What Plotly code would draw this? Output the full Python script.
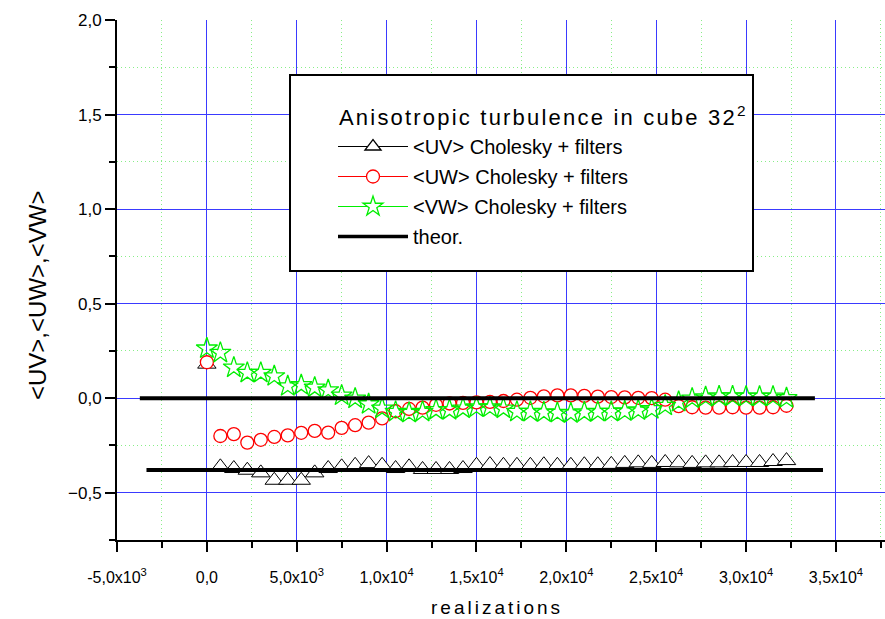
import plotly.graph_objects as go

# ---- data ----
realizations = [0, 750, 1500, 2250, 3000, 3750, 4500, 5250, 6000, 6750, 7500, 8250,
                9000, 9750, 10500, 11250, 12000, 12750, 13500, 14250, 15000, 15750,
                16500, 17250, 18000, 18750, 19500, 20250, 21000, 21750, 22500, 23250,
                24000, 24750, 25500, 26250, 27000, 27750, 28500, 29250, 30000, 30750,
                31500, 32250]

uv = [0.18, -0.363, -0.372, -0.381, -0.395, -0.434, -0.434, -0.434, -0.395, -0.372,
      -0.363, -0.355, -0.346, -0.355, -0.372, -0.363, -0.377, -0.377, -0.377, -0.372,
      -0.355, -0.351, -0.355, -0.355, -0.355, -0.352, -0.355, -0.355, -0.352, -0.352,
      -0.35, -0.345, -0.342, -0.345, -0.34, -0.342, -0.345, -0.342, -0.342, -0.34,
      -0.34, -0.34, -0.335, -0.33]

uw = [0.19, -0.20, -0.19, -0.235, -0.22, -0.205, -0.197, -0.183, -0.173, -0.182,
      -0.157, -0.143, -0.129, -0.107, -0.069, -0.057, -0.05, -0.035, -0.028, -0.025,
      -0.022, -0.02, -0.015, -0.008, 0.002, 0.01, 0.015, 0.015, 0.012, 0.008,
      0.006, 0.004, 0.002, 0.0, -0.008, -0.042, -0.048, -0.05, -0.05, -0.048,
      -0.05, -0.05, -0.048, -0.04]

vw = [0.263, 0.24, 0.162, 0.134, 0.134, 0.116, 0.063, 0.069, 0.056, 0.042,
      0.014, -0.002, -0.032, -0.055, -0.072, -0.078, -0.072, -0.063, -0.063, -0.055,
      -0.049, -0.049, -0.055, -0.072, -0.072, -0.075, -0.078, -0.08, -0.075, -0.072,
      -0.072, -0.07, -0.065, -0.058, -0.04, -0.02, -0.002, 0.005, 0.01, 0.01,
      0.008, 0.008, 0.008, 0.0]

theor_x = [-3730, 33830, None, -3360, 34280]
theor_y = [0.0, 0.0, None, -0.38, -0.38]

x_tickvals = [-5000, 0, 5000, 10000, 15000, 20000, 25000, 30000, 35000]
x_ticktext = ["-5,0x10<sup>3</sup>", "0,0", "5,0x10<sup>3</sup>", "1,0x10<sup>4</sup>",
              "1,5x10<sup>4</sup>", "2,0x10<sup>4</sup>", "2,5x10<sup>4</sup>",
              "3,0x10<sup>4</sup>", "3,5x10<sup>4</sup>"]
x_minorvals = [-2500, 2500, 7500, 12500, 17500, 22500, 27500, 32500, 37500]

names = ["&lt;UV&gt; Cholesky + filters", "&lt;UW&gt; Cholesky + filters",
         "&lt;VW&gt; Cholesky + filters", "theor."]
legend_title = "Anisotropic turbulence in cube 32<sup>2</sup>"
x_title = "realizations"
y_title = "&lt;UV&gt;,&lt;UW&gt;,&lt;VW&gt;"

FONT = "Liberation Sans, Arial, sans-serif"
GREEN = "#00ee00"
BLUE = "#3a3aff"
MINOR = "#88ee88"

fig = go.Figure()

# data markers
fig.add_trace(go.Scatter(x=realizations, y=uv, mode="markers", showlegend=False,
                         marker=dict(symbol="triangle-up", size=16, color="white",
                                     line=dict(color="black", width=1))))
fig.add_trace(go.Scatter(x=realizations, y=uw, mode="markers", showlegend=False,
                         marker=dict(symbol="circle", size=13, color="white",
                                     line=dict(color="red", width=1.3))))
fig.add_trace(go.Scatter(x=realizations, y=vw, mode="markers", showlegend=False,
                         marker=dict(symbol="star-open", size=16, color=GREEN,
                                     line=dict(color=GREEN, width=1.3))))
# theoretical lines
fig.add_trace(go.Scatter(x=theor_x, y=theor_y, mode="lines", showlegend=False,
                         line=dict(color="black", width=4)))

# legend entries
fig.add_trace(go.Scatter(x=[None], y=[None], mode="lines+markers", name=names[0],
                         legendgroup="a", legendrank=1,
                         line=dict(color="black", width=1),
                         marker=dict(symbol="triangle-up", size=14, color="white",
                                     line=dict(color="black", width=1.3))))
fig.add_trace(go.Scatter(x=[None], y=[None], mode="lines+markers", name=names[1],
                         legendgroup="b", legendrank=2,
                         line=dict(color="red", width=1),
                         marker=dict(symbol="circle", size=13, color="white",
                                     line=dict(color="red", width=1.3))))
fig.add_trace(go.Scatter(x=[None], y=[None], mode="lines+markers", name=names[2],
                         legendgroup="c", legendrank=3,
                         line=dict(color=GREEN, width=1),
                         marker=dict(symbol="star", size=15, color="white",
                                     line=dict(color=GREEN, width=1.3))))
fig.add_trace(go.Scatter(x=[None], y=[None], mode="lines", name=names[3],
                         legendgroup="d", legendrank=4,
                         line=dict(color="black", width=3.5)))

L, R, T, B = 117, 0, 20, 79
W, H = 885, 619
pw, ph = W - L - R, H - T - B

def px2paper(x, y):
    return (x - L) / pw, (H - B - y) / ph

bx0, by0 = px2paper(290, 271)
bx1, by1 = px2paper(753, 75)

fig.add_shape(type="rect", xref="paper", yref="paper", x0=bx0, y0=by0, x1=bx1, y1=by1,
              line=dict(color="black", width=2), fillcolor="white", layer="above")

lx, ly = px2paper(333, 127)
ltx, lty = px2paper(337, 116)
axt_x, axt_y = px2paper(497, 607)
ayt_x, ayt_y = px2paper(37, 296)

fig.update_layout(
    width=W, height=H,
    margin=dict(l=L, r=R, t=T, b=B),
    paper_bgcolor="white", plot_bgcolor="white",
    separators=",.",
    font=dict(family=FONT, size=16, color="black"),
    showlegend=True,
    legend=dict(x=lx, y=ly, xanchor="left", yanchor="top",
                bgcolor="rgba(0,0,0,0)", borderwidth=0,
                itemwidth=70, traceorder="grouped", tracegroupgap=1,
                font=dict(family=FONT, size=20, color="black")),
    xaxis=dict(range=[-5000, 37730], tickmode="array", tickvals=x_tickvals,
               ticktext=x_ticktext, showline=True, linecolor="black", linewidth=2,
               ticks="outside", ticklen=10, tickwidth=1.5, tickcolor="black",
               ticklabelstandoff=12,
               tickfont=dict(family=FONT, size=16),
               showgrid=True, gridcolor=BLUE, gridwidth=1, zeroline=False,
               minor=dict(tickmode="array", tickvals=x_minorvals, ticks="outside",
                          ticklen=6, tickcolor="black", tickwidth=1.5,
                          showgrid=True, gridcolor=MINOR, griddash="1px,3px",
                          gridwidth=1)),
    yaxis=dict(range=[-0.75, 2.0], tickmode="linear", tick0=0, dtick=0.5,
               tickformat=".1f", showline=True, linecolor="black", linewidth=2,
               ticks="outside", ticklen=10, tickwidth=1.5, tickcolor="black",
               tickfont=dict(family=FONT, size=17),
               showgrid=True, gridcolor=BLUE, gridwidth=1, zeroline=False,
               minor=dict(dtick=0.25, tick0=0, ticks="outside", ticklen=6,
                          tickcolor="black", tickwidth=1.5,
                          showgrid=True, gridcolor=MINOR, griddash="1px,3px",
                          gridwidth=1)),
    annotations=[
        dict(text=legend_title, xref="paper", yref="paper", x=ltx, y=lty,
             xanchor="left", yanchor="middle", align="left", showarrow=False,
             font=dict(family=FONT, size=22)),
        dict(text=x_title, xref="paper", yref="paper", x=axt_x, y=axt_y,
             xanchor="center", yanchor="middle", showarrow=False,
             font=dict(family=FONT, size=19)),
        dict(text=y_title, xref="paper", yref="paper", x=ayt_x, y=ayt_y,
             xanchor="center", yanchor="middle", showarrow=False, textangle=-90,
             font=dict(family=FONT, size=24)),
    ],
)

# widen the letter spacing of the two spaced-out titles, as in the reference
post_js = """
var gd = document.getElementById('{plot_id}');
function spread() {
  gd.querySelectorAll('.annotation-text').forEach(function (e) {
    var t = e.textContent;
    if (t === 'realizations') { e.style.letterSpacing = '3px'; }
    if (t.indexOf('Anisotropic') === 0) { e.style.letterSpacing = '2.2px'; }
  });
}
spread();
if (gd.on) { gd.on('plotly_afterplot', spread); }
"""

fig.write_html("out.html", post_script=post_js)
